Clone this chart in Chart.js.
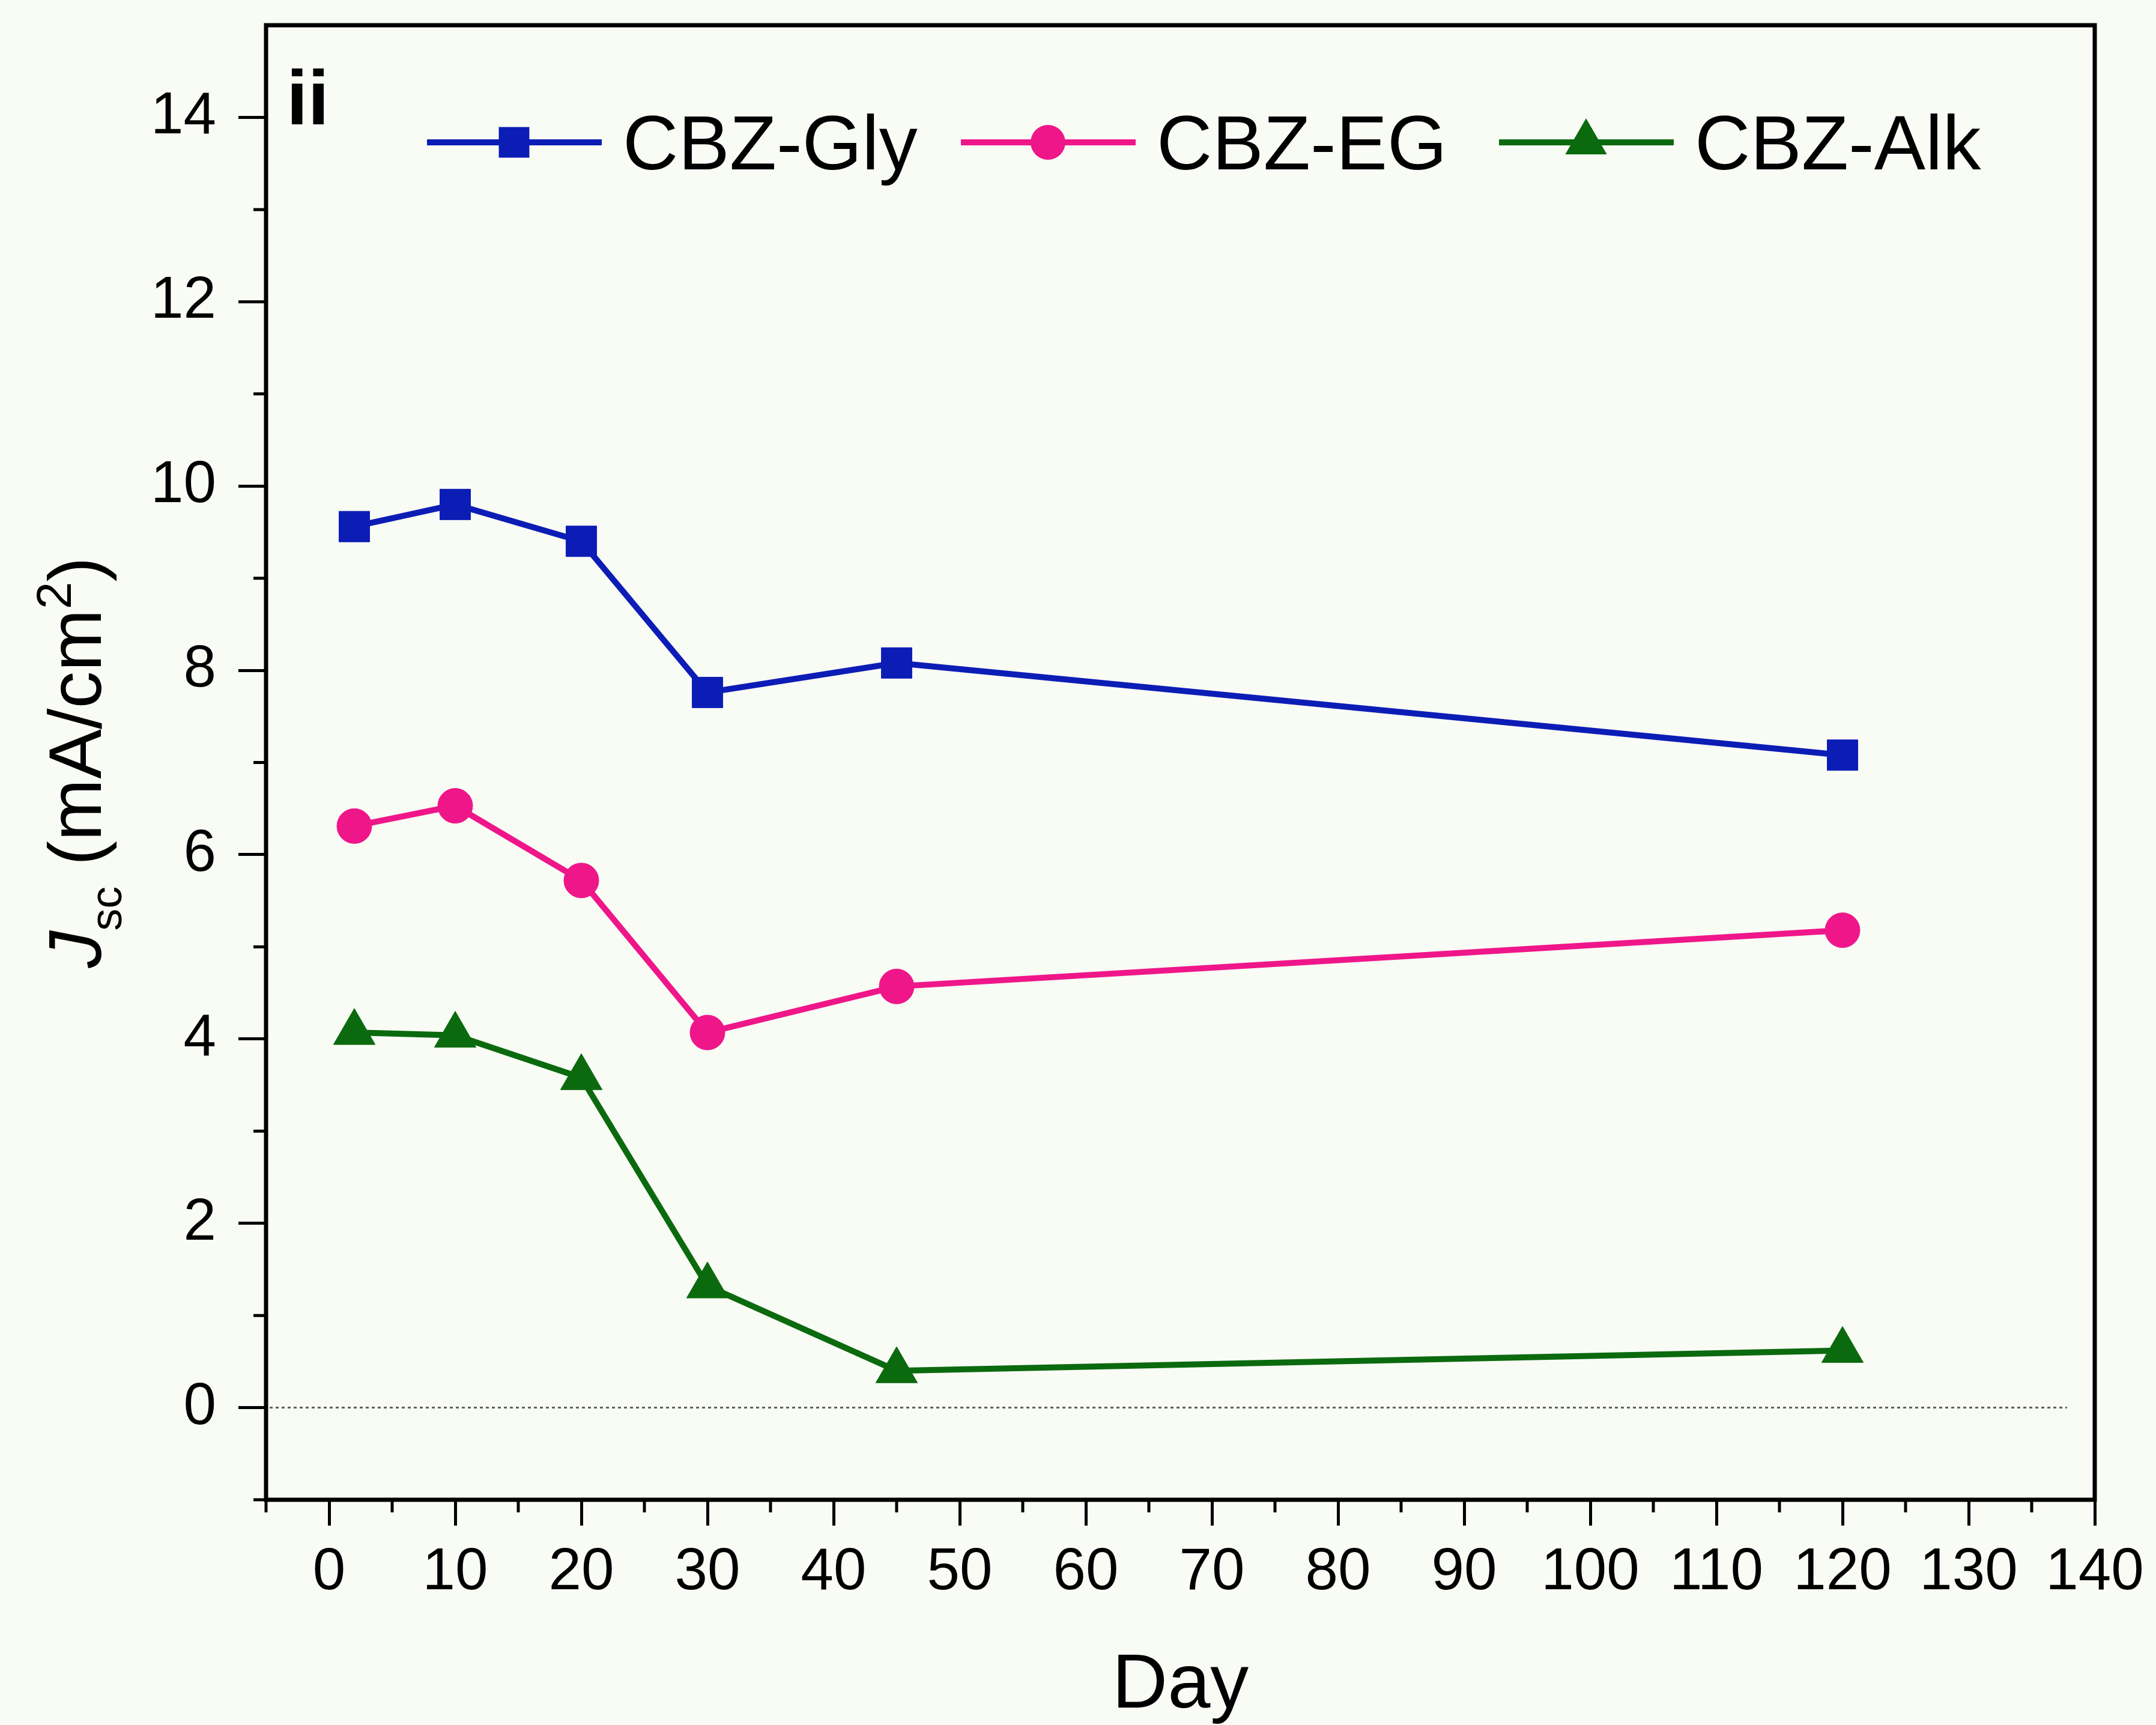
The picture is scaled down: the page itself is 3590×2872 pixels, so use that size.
<!DOCTYPE html>
<html>
<head>
<meta charset="utf-8">
<title>Jsc vs Day</title>
<script src="https://cdn.jsdelivr.net/npm/chart.js@4/dist/chart.umd.min.js"></script>
<style>
  html, body { margin: 0; padding: 0; background: #f9fbf5; }
  canvas { display: block; }
</style>
</head>
<body>
<canvas id="chart" width="3590" height="2872"></canvas>
<script>
// --- Data ---------------------------------------------------------------

const days = [2, 10, 20, 30, 45, 120];
const jscGly = [9.56, 9.80, 9.40, 7.76, 8.08, 7.08];
const jscEG = [6.31, 6.53, 5.72, 4.07, 4.57, 5.18];
const jscAlk = [4.07, 4.04, 3.58, 1.32, 0.40, 0.62];

const seriesNames = ["CBZ-Gly", "CBZ-EG", "CBZ-Alk"];
const dayTicks = [0, 10, 20, 30, 40, 50, 60, 70, 80, 90, 100, 110, 120, 130, 140];
const jscTicks = [0, 2, 4, 6, 8, 10, 12, 14];

const FONT = '"Liberation Sans", Arial, Helvetica, sans-serif';
const BG = "#f9fbf5";

const points = (ys) => days.map((d, i) => ({ x: d, y: ys[i] }));

// --- Plugins ---------------------------------------------------------

function minorTicks(majors, lo, hi) {
  const step = majors[1] - majors[0];
  const out = [];
  for (let v = majors[0] - step / 2; v < hi; v += step) {
    if (v >= lo) out.push(v);
  }
  return out;
}

// marker shapes follow Chart.js point geometry so the legend matches the data
function marker(ctx, style, r, x, y) {
  ctx.beginPath();
  if (style === "rect") {
    const s = r * Math.SQRT1_2;
    ctx.rect(x - s, y - s, 2 * s, 2 * s);
  } else if (style === "triangle") {
    let a = 0;
    ctx.moveTo(x + Math.sin(a) * r, y - Math.cos(a) * r);
    a += 2 * Math.PI / 3;
    ctx.lineTo(x + Math.sin(a) * r, y - Math.cos(a) * r);
    a += 2 * Math.PI / 3;
    ctx.lineTo(x + Math.sin(a) * r, y - Math.cos(a) * r);
    ctx.closePath();
  } else {
    ctx.arc(x, y, r, 0, Math.PI * 2);
  }
  ctx.fill();
}

const decor = {
  id: "decor",
  beforeDraw(chart) {
    const { ctx, width, height } = chart;
    ctx.save();
    ctx.fillStyle = BG;
    ctx.fillRect(0, 0, width, height);
    ctx.restore();
  },
  beforeDatasetsDraw(chart) {
    // dotted zero reference line
    const { ctx, chartArea, scales } = chart;
    const y0 = scales.y.getPixelForValue(0);
    ctx.save();
    ctx.strokeStyle = "#606060";
    ctx.lineWidth = 3;
    ctx.setLineDash([5, 5]);
    ctx.beginPath();
    ctx.moveTo(chartArea.left + 6, y0);
    ctx.lineTo(scales.x.getPixelForValue(137.8), y0);
    ctx.stroke();
    ctx.restore();
  },
  afterDraw(chart) {
    const { ctx, chartArea: a, scales } = chart;
    ctx.save();

    // frame
    ctx.strokeStyle = "#000";
    ctx.lineWidth = 7;
    ctx.strokeRect(a.left, a.top, a.right - a.left, a.bottom - a.top);

    // minor ticks
    ctx.lineWidth = 5;
    ctx.beginPath();
    for (const v of minorTicks(dayTicks, -5, 140)) {
      const x = scales.x.getPixelForValue(v);
      ctx.moveTo(x, a.bottom);
      ctx.lineTo(x, a.bottom + 21);
    }
    for (const v of minorTicks(jscTicks, -1, 15)) {
      const y = scales.y.getPixelForValue(v);
      ctx.moveTo(a.left, y);
      ctx.lineTo(a.left - 21, y);
    }
    ctx.stroke();

    // panel tag
    ctx.fillStyle = "#000";
    ctx.font = `bold 128px ${FONT}`;
    ctx.textBaseline = "alphabetic";
    ctx.fillText("ii", a.left + 34, a.top + 165);

    // legend: line + marker + name
    const legendX = [711, 1600, 2496];
    chart.data.datasets.forEach((ds, i) => {
      const x = legendX[i];
      const y = 237;
      ctx.strokeStyle = ds.borderColor;
      ctx.lineWidth = ds.borderWidth;
      ctx.beginPath();
      ctx.moveTo(x, y);
      ctx.lineTo(x + 291, y);
      ctx.stroke();
      ctx.fillStyle = ds.borderColor;
      marker(ctx, ds.pointStyle, ds.pointRadius, x + 145, y);
      ctx.fillStyle = "#000";
      ctx.font = `128px ${FONT}`;
      ctx.fillText(ds.label, x + 326, 282);
    });

    // y title: J_sc (mA/cm^2)
    const parts = [
      { t: "J", f: `italic 124px ${FONT}`, dy: 0 },
      { t: "sc", f: `74px ${FONT}`, dy: 34 },
      { t: " (mA/cm", f: `124px ${FONT}`, dy: 0 },
      { t: "2", f: `82px ${FONT}`, dy: -50 },
      { t: ")", f: `124px ${FONT}`, dy: 0 },
    ];
    let total = 0;
    for (const p of parts) {
      ctx.font = p.f;
      p.w = ctx.measureText(p.t).width;
      total += p.w;
    }
    ctx.translate(168, (a.top + a.bottom) / 2);
    ctx.rotate(-Math.PI / 2);
    let cx = -total / 2;
    for (const p of parts) {
      ctx.font = p.f;
      ctx.fillText(p.t, cx, p.dy);
      cx += p.w;
    }
    ctx.restore();
  },
};

// --- Chart -----------------------------------------------------------

const colors = ["#0c1db6", "#ef168a", "#0b6a0e"];
const styles = ["rect", "circle", "triangle"];
const radii = [36, 29, 40];

new Chart(document.querySelector("#chart"), {
  type: "line",
  data: {
    datasets: [jscGly, jscEG, jscAlk].map((ys, i) => ({
      label: seriesNames[i],
      data: points(ys),
      borderColor: colors[i],
      backgroundColor: colors[i],
      borderWidth: 10,
      pointStyle: styles[i],
      pointRadius: radii[i],
      pointBorderWidth: 1,
      pointBorderColor: colors[i],
      pointBackgroundColor: colors[i],
      tension: 0,
    })),
  },
  options: {
    responsive: false,
    devicePixelRatio: 1,
    animation: false,
    layout: { padding: { top: 42, right: 102, left: 0, bottom: 0 } },
    plugins: { legend: { display: false }, tooltip: { enabled: false } },
    scales: {
      x: {
        type: "linear",
        min: -5,
        max: 140,
        afterBuildTicks: (s) => { s.ticks = dayTicks.map((v) => ({ value: v })); },
        afterFit: (s) => { s.height = 375; s.paddingLeft = 0; s.paddingRight = 0; },
        ticks: { font: { family: FONT, size: 98 }, color: "#000", padding: 20, maxRotation: 0, autoSkip: false },
        grid: { drawOnChartArea: false, drawTicks: true, tickLength: 43, tickWidth: 5, tickColor: "#000" },
        border: { display: false },
        title: {
          display: true,
          text: "Day",
          color: "#000",
          font: { family: FONT, size: 128, lineHeight: 1 },
          padding: { top: 0, bottom: 0 },
        },
      },
      y: {
        type: "linear",
        min: -1,
        max: 15,
        afterBuildTicks: (s) => { s.ticks = jscTicks.map((v) => ({ value: v })); },
        afterFit: (s) => { s.width = 443; s.paddingTop = 0; s.paddingBottom = 0; },
        ticks: { font: { family: FONT, size: 98 }, color: "#000", padding: 37 },
        grid: { drawOnChartArea: false, drawTicks: true, tickLength: 46, tickWidth: 5, tickColor: "#000" },
        border: { display: false },
      },
    },
  },
  plugins: [decor],
});
</script>
</body>
</html>
